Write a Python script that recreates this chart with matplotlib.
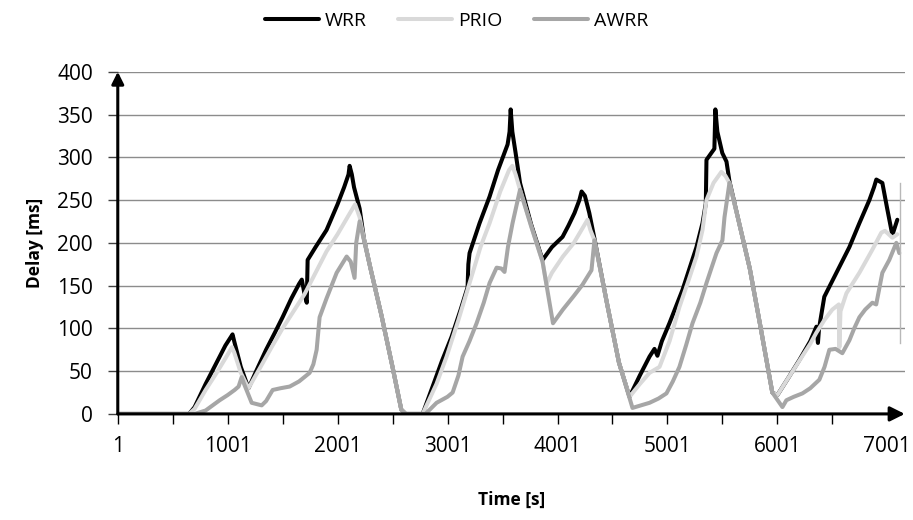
import matplotlib
matplotlib.use("Agg")
import matplotlib.pyplot as plt

# --- data (time in s, delay in ms) ---
wrr_t = [1, 650, 700, 800, 900, 980, 1030, 1045, 1060, 1120, 1190, 1260, 1350, 1430, 1500,
         1580, 1650, 1675, 1700, 1720, 1728, 1800, 1900, 2000, 2060, 2100, 2110, 2130, 2150,
         2201, 2240, 2300, 2400, 2500, 2580, 2620, 2774, 2865, 2950, 3037, 3120, 3183, 3190,
         3201, 3292, 3383, 3460, 3547, 3565, 3575, 3590, 3620, 3660, 3760, 3865, 3950, 4047,
         4100, 4156, 4200, 4220, 4250, 4290, 4337, 4450, 4560, 4656, 4750, 4838, 4883, 4910,
         4950, 5019, 5138, 5265, 5320, 5350, 5356, 5400, 5428, 5437, 5455, 5500, 5538, 5565,
         5650, 5750, 5850, 5955, 6001, 6100, 6201, 6300, 6356, 6370, 6380, 6428, 6538, 6656,
         6747, 6838, 6880, 6901, 6956, 7000, 7047, 7092]
wrr_y = [0, 0, 8, 35, 60, 80, 90, 93, 85, 55, 30, 50, 75, 95, 113,
         135, 152, 157, 140, 130, 180, 195, 215, 245, 265, 280, 290, 280, 265,
         240, 205, 170, 115, 55, 5, 0, 0, 32, 62, 90, 122, 148, 175,
         188, 223, 254, 285, 315, 330, 356, 330, 305, 270, 222, 180, 195, 207,
         220, 235, 250, 260, 255, 235, 205, 130, 60, 20, 45, 67, 76, 68,
         85, 106, 145, 195, 223, 246, 297, 305, 310, 356, 330, 305, 295, 272,
         225, 170, 100, 25, 22, 42, 63, 85, 102, 83, 100, 137, 165, 195,
         223, 250, 265, 274, 270, 240, 209, 227]

prio_t = [1, 650, 700, 800, 900, 980, 1040, 1060, 1120, 1190, 1300, 1400, 1500, 1600, 1700,
          1800, 1900, 2000, 2100, 2160, 2201, 2240, 2300, 2400, 2500, 2580, 2620, 2774, 2900,
          2992, 3100, 3201, 3300, 3383, 3480, 3560, 3590, 3620, 3660, 3760, 3865, 3900, 3950,
          4050, 4150, 4274, 4300, 4337, 4450, 4560, 4656, 4750, 4838, 4929, 5020, 5110, 5190,
          5265, 5320, 5356, 5420, 5492, 5530, 5565, 5650, 5750, 5850, 5955, 6001, 6100, 6200,
          6300, 6356, 6430, 6501, 6560, 6565, 6575, 6629, 6747, 6865, 6947, 6980, 7047, 7092]
prio_y = [0, 0, 6, 28, 48, 65, 78, 72, 48, 30, 55, 78, 100, 120, 140,
          165, 190, 210, 232, 245, 230, 205, 170, 115, 55, 5, 0, 0, 35,
          67, 110, 153, 195, 223, 260, 285, 290, 280, 262, 220, 178, 152, 165,
          184, 200, 227, 215, 203, 130, 60, 20, 35, 48, 55, 85, 125, 155,
          184, 215, 250, 270, 283, 278, 270, 225, 170, 100, 25, 22, 42, 62,
          82, 95, 110, 122, 128, 78, 120, 141, 165, 192, 212, 214, 206, 210]

awrr_t = [1, 700, 800, 928, 1000, 1064, 1100, 1128, 1150, 1219, 1310, 1350, 1410, 1480, 1565,
          1650, 1746, 1780, 1810, 1837, 1900, 1992, 2083, 2120, 2155, 2170, 2201, 2300, 2400,
          2500, 2580, 2620, 2800, 2901, 3000, 3047, 3100, 3138, 3200, 3265, 3330, 3383, 3447,
          3490, 3519, 3550, 3592, 3660, 3760, 3865, 3960, 4050, 4150, 4228, 4310, 4337, 4450,
          4560, 4683, 4760, 4838, 4920, 4992, 5050, 5110, 5170, 5229, 5300, 5356, 5400, 5447,
          5501, 5520, 5565, 5650, 5750, 5850, 5955, 6047, 6083, 6150, 6229, 6300, 6383, 6430,
          6474, 6530, 6592, 6656, 6700, 6747, 6800, 6865, 6900, 6956, 7019, 7083, 7110]
awrr_y = [0, 0, 4, 16, 22, 28, 32, 43, 35, 13, 10, 15, 28, 30, 32,
          38, 48, 58, 75, 113, 135, 165, 184, 178, 159, 200, 225, 170, 115,
          55, 5, 0, 0, 13, 20, 25, 45, 67, 85, 106, 130, 153, 171,
          170, 166, 195, 223, 262, 220, 178, 106, 122, 138, 151, 168, 203, 130,
          60, 7, 10, 13, 18, 24, 38, 55, 80, 106, 130, 153, 170, 188,
          203, 230, 270, 225, 170, 100, 25, 8, 16, 20, 24, 30, 40, 55,
          75, 76, 71, 86, 100, 113, 122, 130, 128, 165, 180, 200, 188]

# thin trailing segment at the right edge
end_t = [7120, 7120]
end_y = [270, 83]

yticks = [0, 50, 100, 150, 200, 250, 300, 350, 400]
xlabels = [1, 1001, 2001, 3001, 4001, 5001, 6001, 7001]

plt.rcParams['font.family'] = ['Open Sans', 'DejaVu Sans']

fig = plt.figure(figsize=(9.13, 5.20), dpi=100)
ax = fig.add_axes([0.129, 0.204, 0.862, 0.658])

for v in yticks[1:]:
    ax.axhline(v, color='#8c8c8c', lw=1.0, zorder=1)

lkw = dict(lw=2.9, solid_joinstyle='round', solid_capstyle='round')
ax.plot(wrr_t, wrr_y, color='black', label='WRR', zorder=3, **lkw)
ax.plot(prio_t, prio_y, color='#d9d9d9', label='PRIO', zorder=4, **lkw)
ax.plot(awrr_t, awrr_y, color='#a6a6a6', label='AWRR', zorder=5, **lkw)
ax.plot(end_t, end_y, color='#b8b8b8', lw=1.0, zorder=5)

ax.set_xlim(1, 7160)
ax.set_ylim(0, 400)
for s in ax.spines.values():
    s.set_visible(False)

# axes with arrow heads
ax.annotate('', xy=(1, 0), xytext=(0, 0), xycoords='axes fraction',
            arrowprops=dict(arrowstyle='-|>', color='black', lw=2.2, mutation_scale=22,
                            shrinkA=0, shrinkB=0), zorder=6)
ax.annotate('', xy=(0, 1.0), xytext=(0, 0), xycoords='axes fraction',
            arrowprops=dict(arrowstyle='-|>', color='black', lw=2.2, mutation_scale=18,
                            shrinkA=0, shrinkB=0), zorder=6)

ax.set_yticks(yticks)
ax.tick_params(axis='y', length=7, width=1, color='#404040', pad=11, labelsize=15)
ax.set_xticks(range(1, 7001, 500), minor=False)
ax.set_xticklabels([str(v) if v in xlabels else '' for v in range(1, 7001, 500)])
ax.tick_params(axis='x', length=7, width=1, color='black', pad=9, labelsize=15)
# 7001 label (tick hidden under the arrow)
ax.set_xticks([7001], minor=True)
ax.set_xticklabels(['7001'], minor=True)
ax.tick_params(axis='x', which='minor', length=0, pad=16, labelsize=15)

ax.set_ylabel('Delay [ms]', fontsize=12.5, fontweight='bold', labelpad=9)
ax.set_xlabel('Time [s]', fontsize=12.5, fontweight='bold', labelpad=24)

fig.legend(loc='upper center', bbox_to_anchor=(0.5, 1.01), ncol=3, frameon=False,
           fontsize=14, handlelength=2.8, columnspacing=1.6, handletextpad=0.3)

fig.savefig('out.png', dpi=100)
